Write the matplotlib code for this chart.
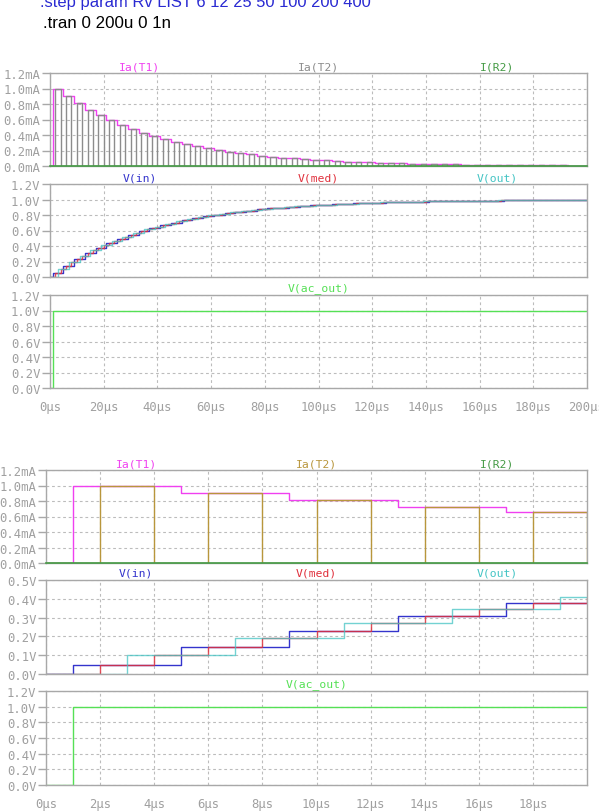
import numpy as np
import matplotlib.pyplot as plt

# Ia(T1) en mA: cambia en 1us, 5us, 9us ... (cada 4us)
ia_t1 = [1.000, 0.900, 0.810, 0.729, 0.656, 0.590, 0.531, 0.478, 0.430, 0.387,
         0.349, 0.314, 0.282, 0.254, 0.229, 0.206, 0.185, 0.167, 0.150, 0.135,
         0.122, 0.109, 0.098, 0.089, 0.080, 0.072, 0.065, 0.058, 0.052, 0.047,
         0.042, 0.038, 0.034, 0.031, 0.028, 0.025, 0.023, 0.020, 0.018, 0.016,
         0.015, 0.013, 0.012, 0.011, 0.010, 0.009, 0.008, 0.007, 0.006, 0.006]

# V(in): cambia en 1us, 5us, 9us ...
v_in = [0.050, 0.145, 0.231, 0.307, 0.377, 0.439, 0.495, 0.546, 0.591, 0.632,
        0.669, 0.702, 0.732, 0.759, 0.783, 0.804, 0.824, 0.842, 0.857, 0.872,
        0.884, 0.896, 0.906, 0.916, 0.924, 0.932, 0.939, 0.945, 0.950, 0.955,
        0.960, 0.964, 0.967, 0.971, 0.974, 0.976, 0.979, 0.981, 0.983, 0.984,
        0.986, 0.987, 0.989, 0.990, 0.991, 0.992, 0.993, 0.993, 0.994, 0.995]

# V(out): cambia en 3us, 7us, 11us ...
v_out = [0.100, 0.190, 0.271, 0.344, 0.410, 0.469, 0.522, 0.570, 0.613, 0.651,
         0.686, 0.718, 0.746, 0.771, 0.794, 0.815, 0.833, 0.850, 0.865, 0.878,
         0.891, 0.902, 0.911, 0.920, 0.928, 0.935, 0.942, 0.948, 0.953, 0.958,
         0.962, 0.966, 0.969, 0.972, 0.975, 0.977, 0.980, 0.982, 0.984, 0.985,
         0.987, 0.988, 0.989, 0.990, 0.991, 0.992, 0.993, 0.994, 0.994, 0.995]

t_end = 200
t_in = np.arange(1, t_end, 4)    # flancos de Ia(T1) y V(in)
t_t2 = np.arange(2, t_end, 4)    # comienzo de cada pulso de Ia(T2)
t_out = np.arange(3, t_end, 4)   # flancos de V(out)
t_ac = 1                         # V(ac_out) sube a 1V en 1us
v_ac = 1.0

ma_ticks = [0.0, 0.2, 0.4, 0.6, 0.8, 1.0, 1.2]
v_ticks = [0.0, 0.2, 0.4, 0.6, 0.8, 1.0, 1.2]
v_ticks_zoom = [0.0, 0.1, 0.2, 0.3, 0.4, 0.5]

# colores de las trazas
c_t1 = '#f040f0'
c_t2_top = '#8c8c8c'
c_t2_bot = '#b8963c'
c_r2 = '#449a44'
c_in = '#3434cc'
c_med = '#e0303c'
c_out = '#44c4c4'
c_ac = '#55e055'
c_axis = '#a8a8a8'

plt.rcParams['font.family'] = ['DejaVu Sans Mono']


def stairs(times, levels, t_end):
    x = np.concatenate([[0], times, [t_end]])
    y = np.concatenate([[0], levels, [levels[-1]]])
    return x, y


# V(med) alterna entre el valor de V(in) y el de V(out), cada 2us
t_med = np.sort(np.concatenate([t_in + 1, t_out + 1]))
v_med = np.ravel(np.column_stack([v_in, v_out]))
t_med, v_med = t_med[t_med < t_end], v_med[:len(t_med[t_med < t_end])]

# pulsos de Ia(T2): 2us encendido, 2us apagado
t_pulse = np.ravel(np.column_stack([t_t2, t_t2 + 2]))
ia_pulse = np.ravel(np.column_stack([ia_t1, np.zeros(len(ia_t1))]))


def px_rect(left, top, right, bottom):
    return [left / 599, 1 - bottom / 812, (right - left) / 599, (bottom - top) / 812]


def style_axis(ax, xmax, xticks, xlabels, yticks, unit, ydec=1):
    ax.set_xlim(0, xmax)
    ax.set_ylim(yticks[0], yticks[-1])
    ax.set_xticks(xticks)
    ax.set_yticks(yticks)
    ax.set_yticklabels([f'{v:.{ydec}f}{unit}' for v in yticks])
    if xlabels is None:
        ax.set_xticklabels([])
    else:
        ax.set_xticklabels(xlabels)
    ax.grid(True, ls=(0, (2.5, 2.5)), color='#bcbcbc', lw=0.8)
    ax.set_axisbelow(True)
    for s in ax.spines.values():
        s.set_color(c_axis)
        s.set_linewidth(1.0)
    ax.tick_params(axis='y', length=6, width=1, color=c_axis, labelcolor='#a0a0a0',
                   labelsize=8.8, pad=1)
    ax.tick_params(axis='x', length=0, labelcolor='#a0a0a0', labelsize=8.8, pad=9)


def trace_labels(ax, labels):
    pos = [1 / 6, 1 / 2, 5 / 6]
    for (txt, col), p in zip(labels, pos):
        if txt:
            ax.text(p, 1.075, txt, color=col, fontsize=8.2, ha='center', va='center',
                    transform=ax.transAxes)


fig = plt.figure(figsize=(5.99, 8.12), dpi=100)

fig.text(40 / 599, 1 - 7 / 812, '.step param Rv LIST 6 12 25 50 100 200 400',
         color='#2a2ad2', fontsize=11.9, family='Liberation Sans', va='baseline')
fig.text(43 / 599, 1 - 28 / 812, '.tran 0 200u 0 1n', color='black', fontsize=12.2,
         family='Liberation Sans', va='baseline')

groups = [
    dict(left=50, xmax=200, xticks=list(range(0, 201, 20)),
         xlabels=[f'{v}µs' for v in range(0, 201, 20)], rows=[(74, 167), (185, 278), (296, 389)],
         c_t2=c_t2_top, vzoom=False),
    dict(left=46, xmax=20, xticks=list(range(0, 20, 2)),
         xlabels=[f'{v}µs' for v in range(0, 20, 2)], rows=[(471, 564), (581, 675), (692, 786)],
         c_t2=c_t2_bot, vzoom=True),
]

for g in groups:
    (t1, b1), (t2, b2), (t3, b3) = g['rows']
    ax1 = fig.add_axes(px_rect(g['left'], t1, 587, b1))
    ax2 = fig.add_axes(px_rect(g['left'], t2, 587, b2))
    ax3 = fig.add_axes(px_rect(g['left'], t3, 587, b3))

    # corrientes
    x, y = stairs(t_in, ia_t1, t_end)
    ax1.step(x, y, where='post', color=c_t1, lw=1.0)
    x, y = stairs(t_pulse, ia_pulse, t_end)
    ax1.step(x, y, where='post', color=g['c_t2'], lw=1.0)
    # I(R2) queda en cero
    ax1.plot([0, g['xmax']], [0, 0], color=c_r2, lw=1.2, clip_on=False, zorder=4)
    style_axis(ax1, g['xmax'], g['xticks'], None, ma_ticks, 'mA')
    trace_labels(ax1, [('Ia(T1)', c_t1), ('Ia(T2)', g['c_t2']), ('I(R2)', c_r2)])

    # tensiones
    x, y = stairs(t_in, v_in, t_end)
    ax2.step(x, y, where='post', color=c_in, lw=1.0)
    x, y = stairs(t_med, v_med, t_end)
    ax2.step(x, y, where='post', color=c_med, lw=1.0, alpha=0.85)
    x, y = stairs(t_out, v_out, t_end)
    ax2.step(x, y, where='post', color=c_out, lw=1.0, alpha=0.75)
    style_axis(ax2, g['xmax'], g['xticks'], None, v_ticks_zoom if g['vzoom'] else v_ticks, 'V')
    trace_labels(ax2, [('V(in)', c_in), ('V(med)', c_med), ('V(out)', c_out)])

    # salida
    ax3.step([0, t_ac, t_end], [0, v_ac, v_ac], where='post', color=c_ac, lw=1.0)
    style_axis(ax3, g['xmax'], g['xticks'], g['xlabels'], v_ticks, 'V')
    trace_labels(ax3, [('', None), ('V(ac_out)', c_ac), ('', None)])

fig.savefig('out.png', dpi=100)
